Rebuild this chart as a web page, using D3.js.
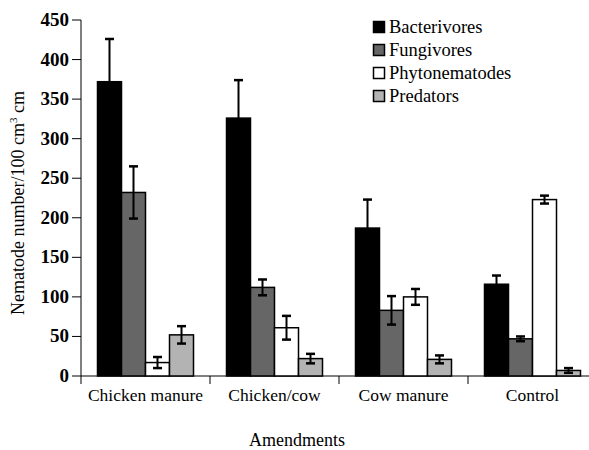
<!DOCTYPE html>
<html><head><meta charset="utf-8">
<script src="https://cdn.jsdelivr.net/npm/d3@7"></script>
</head>
<body style="margin:0"><svg id="c" width="589" height="450"></svg>
<script>
const categories = ["Chicken manure","Chicken/cow","Cow manure","Control"];
const seriesNames = ["Bacterivores","Fungivores","Phytonematodes","Predators"];
const seriesColors = ["#000000","#666666","#ffffff","#b3b3b3"];
const bacterivores = [372,326,187,116];
const bacterivoresErr = [54,48,36,11];
const fungivores = [232,112,83,47];
const fungivoresErr = [33,10,18,3];
const phytonematodes = [17,61,100,223];
const phytonematodesErr = [7,15,10,5];
const predators = [52,22,21,7];
const predatorsErr = [11,6,5,3];
const yTicks = [0,50,100,150,200,250,300,350,400,450];

const values = [bacterivores,fungivores,phytonematodes,predators];
const errors = [bacterivoresErr,fungivoresErr,phytonematodesErr,predatorsErr];

const svg = d3.select("#c");
const x0 = d3.scaleBand().domain(categories).range([81,597]).padding(0);
const x1 = d3.scaleBand().domain(seriesNames).range([16.5,112.5]).padding(0);
const y = d3.scaleLinear().domain([0,450]).range([376,20]);

function txt(sel, size){ return sel.attr("font-family","Liberation Serif").style("font-family","'Liberation Serif'").style("font-size",size+"px"); }

// y axis ticks and labels
yTicks.forEach(t=>{
  svg.append("line").attr("x1",72).attr("x2",81).attr("y1",y(t)).attr("y2",y(t)).attr("stroke","#000");
  txt(svg.append("text").attr("x",69).attr("y",y(t)+6).attr("text-anchor","end"),19).style("font-weight","bold").text(t);
});
svg.append("line").attr("x1",81).attr("x2",81).attr("y1",y(450)).attr("y2",384).attr("stroke","#000");

// x axis
svg.append("line").attr("x1",81).attr("x2",597).attr("y1",376).attr("y2",376).attr("stroke","#000");
categories.forEach((c,i)=>{
  if(i>0){
    svg.append("line").attr("x1",x0(c)).attr("x2",x0(c)).attr("y1",376).attr("y2",384).attr("stroke","#000");
  }
  txt(svg.append("text").attr("x",x0(c)+x0.bandwidth()/2).attr("y",401)
    .attr("text-anchor","middle"),17.5).text(c);
});

// bars
seriesNames.forEach((s,si)=>{
  const g = svg.append("g");
  categories.forEach((c,ci)=>{
    const v = values[si][ci];
    const bx = x0(c)+x1(s);
    g.append("rect").attr("x",bx).attr("y",y(v)).attr("width",x1.bandwidth()).attr("height",y(0)-y(v))
      .attr("fill",seriesColors[si]).attr("stroke","#000").attr("stroke-width",1.5);
  });
});
// error bars
seriesNames.forEach((s,si)=>{
  const g = svg.append("g");
  categories.forEach((c,ci)=>{
    const v = values[si][ci], e = errors[si][ci];
    const cx = x0(c)+x1(s)+x1.bandwidth()/2;
    const col = "#000";
    g.append("line").attr("x1",cx).attr("x2",cx).attr("y1",y(v+e)).attr("y2",y(Math.max(0,v-e))).attr("stroke",col).attr("stroke-width",2);
    g.append("line").attr("x1",cx-4.5).attr("x2",cx+4.5).attr("y1",y(v+e)).attr("y2",y(v+e)).attr("stroke",col).attr("stroke-width",2.5);
    g.append("line").attr("x1",cx-4.5).attr("x2",cx+4.5).attr("y1",y(Math.max(0,v-e))).attr("y2",y(Math.max(0,v-e))).attr("stroke",col).attr("stroke-width",2.5);
  });
});

// legend
seriesNames.forEach((s,i)=>{
  const ly = 27 + i*23;
  svg.append("rect").attr("x",373.5).attr("y",ly-5.5).attr("width",11).attr("height",11)
    .attr("fill",seriesColors[i]).attr("stroke","#000").attr("stroke-width",1.5);
  txt(svg.append("text").attr("x",389).attr("y",ly+5.5),18.5).text(s);
});

// axis titles
txt(svg.append("text").attr("x",297).attr("y",446).attr("text-anchor","middle"),18).text("Amendments");
const yl = txt(svg.append("text").attr("transform","translate(24,203) rotate(-90)").attr("text-anchor","middle"),18);
yl.append("tspan").text("Nematode number/100 cm");
yl.append("tspan").style("font-size","11px").attr("dy",-7).text("3");
yl.append("tspan").attr("dy",7).text(" cm");
</script></body></html>
